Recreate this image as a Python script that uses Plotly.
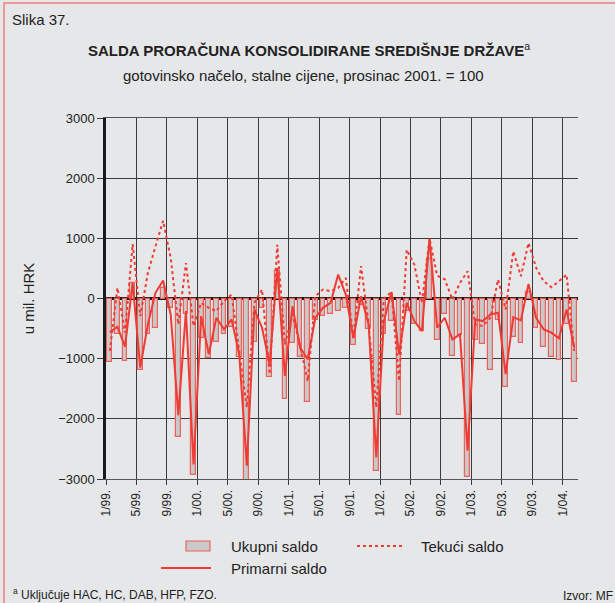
import plotly.graph_objects as go

# ---------------- data ----------------
tick_labels = ["1/99.", "5/99.", "9/99.", "1/00.", "5/00.", "9/00.", "1/01.", "5/01.",
               "9/01.", "1/02.", "5/02.", "9/02.", "1/03.", "5/03.", "9/03.", "1/04."]

ukupni_saldo = [-1060, -585, -1045, 260, -1180, -585, -490, 177, -160, -2300, -250, -2940,
                -663, -995, -724, -597, -470, -966, -3070, -723, -150, -1303, 450, -1673,
                -734, -972, -1728, -364, -293, -265, -210, -155, -773, -100, -513, -2860,
                -585, -375, -1938, -210, -420, -541, 650, -696, -265, -955, -607, -2970,
                -696, -751, -1187, -364, -1479, -635, -734, 100, -497, -800, -972, -1027,
                -430, -1380]

primarni_saldo = [-560, -470, -800, 260, -1148, -430, 94, 298, -265, -1938, -210, -2760,
                  -293, -927, -320, -513, -348, -927, -2777, -182, -486, -1100, 508, -1286,
                  -127, -817, -1010, -320, -155, -72, 397, 66, -662, 39, -430, -2640,
                  -375, 110, -927, -72, -375, -541, 994, -486, -320, -679, -596, -2528,
                  -348, -375, -265, -237, -1258, -309, -364, 243, -320, -513, -568, -662,
                  -182, -817]

tekuci_saldo = [-872, 177, -568, 905, -293, 425, 867, 1292, 673, -430, 590, -458,
                -72, -155, -210, -44, 66, -900, -1810, -72, 150, -1258, 894, -762,
                -265, -790, -1369, 39, 150, 121, 177, 342, -650, 540, -430, -1810,
                0, 110, -1370, 811, 563, -72, 994, 380, 320, -17, 260, 453,
                -430, -458, -320, 315, -182, 784, 370, 922, 508, 287, 188, 287,
                397, -872]

n = len(ukupni_saldo)
xpos = [i + 0.5 for i in range(n)]
tickvals = [4 * k for k in range(len(tick_labels))]

RED = "#ee3b33"
BG = "#e6e7e9"
GRID = "#3a3a3a"
FONT = "Liberation Sans, Arial, sans-serif"

W, H = 615, 603
L, R, T, B = 106, 578, 118, 479
PW, PH = R - L, B - T

fig = go.Figure()
fig.add_trace(go.Bar(x=xpos, y=ukupni_saldo, width=0.62, name="Ukupni saldo",
                     marker=dict(color="#c8c9cb", line=dict(color="#f0605a", width=1.2)),
                     showlegend=False))
fig.add_trace(go.Scatter(x=xpos, y=tekuci_saldo, mode="lines", name="Tekući saldo",
                         line=dict(color=RED, width=2, dash="dot"), showlegend=False))
fig.add_trace(go.Scatter(x=xpos, y=primarni_saldo, mode="lines", name="Primarni saldo",
                         line=dict(color=RED, width=2), showlegend=False))

fig.update_layout(
    width=W, height=H,
    paper_bgcolor=BG, plot_bgcolor=BG,
    margin=dict(l=L, r=W - R, t=T, b=H - B),
    font=dict(family=FONT, color="#222222", size=12),
    bargap=0,
)
fig.update_xaxes(range=[0, n], tickvals=tickvals, ticktext=tick_labels, tickangle=-90,
                 showgrid=True, gridcolor=GRID, gridwidth=1,
                 ticks="outside", ticklen=5, tickcolor=GRID,
                 showline=True, linecolor="#555555", linewidth=1, mirror=True,
                 zeroline=False, tickfont=dict(size=12))
fig.update_yaxes(range=[-3000, 3000], dtick=1000, showgrid=True, gridcolor=GRID, gridwidth=1,
                 zeroline=True, zerolinecolor="#111111", zerolinewidth=2.5,
                 ticks="outside", ticklen=6, tickcolor=GRID,
                 showline=True, linecolor="#1a1a1a", linewidth=2.5,
                 tickfont=dict(size=13),
                 title=dict(text="u mil. HRK", font=dict(size=15), standoff=20))


def px(xp):
    return (xp - L) / PW


def py(yp):
    return (B - yp) / PH


# frame border (top and left visible in the reference)
fig.add_shape(type="rect", xref="paper", yref="paper", x0=px(4), x1=px(640),
              y0=py(640), y1=py(3), line=dict(color="#f08080", width=1.5))

ann = [
    dict(text="Slika 37.", x=10, y=20, size=15, anchor="left"),
    dict(text="<b>SALDA PRORAČUNA KONSOLIDIRANE SREDIŠNJE DRŽAVE</b><sup>a</sup>", x=309, y=49, size=15, anchor="center"),
    dict(text="gotovinsko načelo, stalne cijene, prosinac 2001. = 100", x=303, y=75, size=15, anchor="center"),
    dict(text="Ukupni saldo", x=229, y=546, size=15, anchor="left"),
    dict(text="Tekući saldo", x=419, y=546, size=15, anchor="left"),
    dict(text="Primarni saldo", x=229, y=568, size=15, anchor="left"),
    dict(text="<sup>a</sup> Uključuje HAC, HC, DAB, HFP, FZO.", x=11, y=594, size=12, anchor="left"),
    dict(text="Izvor: MF", x=615, y=596, size=12, anchor="right"),
]
for a in ann:
    fig.add_annotation(text=a["text"], xref="paper", yref="paper",
                       x=px(a["x"]), y=py(a["y"]),
                       xanchor=a["anchor"], yanchor="middle", showarrow=False,
                       font=dict(size=a["size"], color="#222222", family=FONT))

# legend symbols
fig.add_shape(type="rect", xref="paper", yref="paper", x0=px(186), x1=px(210), y0=py(551), y1=py(541),
              fillcolor="#c8c9cb", line=dict(color="#f0605a", width=1.2))
fig.add_shape(type="line", xref="paper", yref="paper", x0=px(357), x1=px(405), y0=py(546), y1=py(546),
              line=dict(color=RED, width=2, dash="dot"))
fig.add_shape(type="line", xref="paper", yref="paper", x0=px(161), x1=px(211), y0=py(568), y1=py(568),
              line=dict(color=RED, width=2))

fig.write_html("out.html",
               config={"displayModeBar": False},
               post_script="document.body.style.margin='0';document.body.style.overflow='hidden';")
